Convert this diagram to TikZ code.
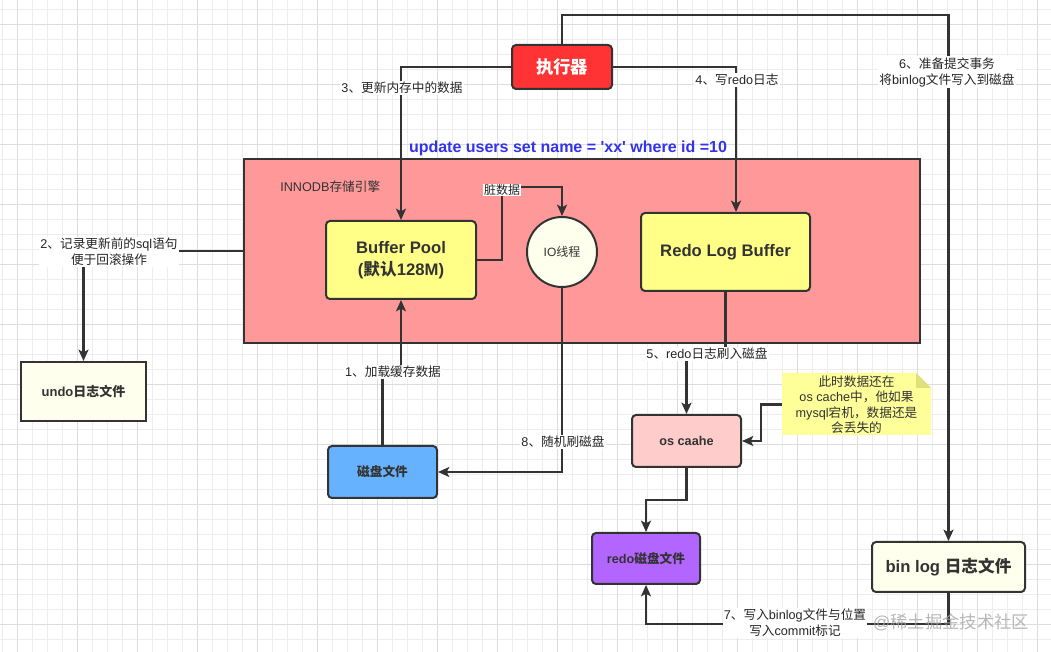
\documentclass[tikz,border=0pt]{standalone}
\usepackage{fontspec}
\setmainfont{Liberation Sans}
\newfontfamily\sqlfont{Liberation Sans}
\newfontfamily\zhfont{Noto Sans CJK SC}
\newcommand\zh[1]{{\zhfont #1}}
\usetikzlibrary{arrows.meta,calc}
\definecolor{lc}{HTML}{333333}
\definecolor{gridl}{HTML}{EDEDED}
\definecolor{gridd}{HTML}{DDDDDD}
\definecolor{execred}{HTML}{FF3333}
\definecolor{innopink}{HTML}{FF9999}
\definecolor{bufy}{HTML}{FFFF88}
\definecolor{cream}{HTML}{FFFFEE}
\definecolor{diskblue}{HTML}{66B2FF}
\definecolor{ospink}{HTML}{FFCCCC}
\definecolor{redopurple}{HTML}{B266FF}
\definecolor{noteyel}{HTML}{FFFF99}
\definecolor{notefold}{HTML}{E0E07A}
\definecolor{sqlblue}{HTML}{3333EE}
\tikzset{
  conn/.style={draw=lc, line width=1.6pt, -{Stealth[length=8.5pt,width=7.5pt,inset=2pt]}},
  box/.style={draw=lc, line width=1.5pt, rounded corners=3pt, align=center, inner sep=0pt, text=lc},
  lbl/.style={fill=white, inner sep=1pt, align=center, text=black!85, font=\fontsize{9.5}{12}\selectfont},
}
\begin{document}
\begin{tikzpicture}[x=0.75pt,y=-0.75pt]
\useasboundingbox (0,0) rectangle (1051,652);
\fill[white] (0,0) rectangle (1051,652);
% grid
\foreach \i in {0,...,69} \draw[gridl, line width=0.75pt] ({2.7+15*\i},0) -- ({2.7+15*\i},652);
\foreach \j in {0,...,43} \draw[gridl, line width=0.75pt] (0,{9.3+15*\j}) -- (1051,{9.3+15*\j});
\foreach \i in {0,...,17} \draw[gridd, line width=0.75pt] ({17.7+60*\i},0) -- ({17.7+60*\i},652);
\foreach \j in {0,...,10} \draw[gridd, line width=0.75pt] (0,{24.3+60*\j}) -- (1051,{24.3+60*\j});

% storage engine
\node[draw=lc, line width=1.5pt, fill=innopink, minimum width=507pt, minimum height=138pt, inner sep=0pt] (inno) at (582,251) {};
\node[anchor=west, inner sep=0pt, text=lc, font=\fontsize{9.5}{11}\selectfont] (innolbl) at (280,187) {INNODB\zh{存储引擎}};

% nodes
\node[box, fill=execred, minimum width=75pt, minimum height=33pt, text=white, font=\bfseries\fontsize{13}{15}\selectfont] (exec) at (562,67) {\zh{执行器}};
\node[box, fill=bufy, minimum width=112.5pt, minimum height=58.5pt, font=\bfseries\fontsize{12.5}{16.5}\selectfont] (bp) at (401,260) {Buffer Pool\\(\zh{默认}128M)};
\node[circle, draw=lc, line width=1.5pt, fill=cream, minimum size=52.5pt, inner sep=0pt, text=lc, font=\fontsize{9}{11}\selectfont] (io) at (562,252) {IO\zh{线程}};
\node[box, fill=bufy, minimum width=126.75pt, minimum height=58.5pt, font=\bfseries\fontsize{12.5}{15}\selectfont] (rlb) at (725.5,252) {Redo Log Buffer};
\node[box, rounded corners=0pt, fill=cream, minimum width=93.75pt, minimum height=44.25pt, font=\bfseries\fontsize{9.75}{12}\selectfont] (undo) at (83.5,391.5) {undo\zh{日志文件}};
\node[box, fill=diskblue, minimum width=81.75pt, minimum height=39pt, font=\bfseries\fontsize{9.5}{12}\selectfont] (disk) at (382.5,472) {\zh{磁盘文件}};
\node[box, fill=ospink, minimum width=81.75pt, minimum height=39pt, font=\bfseries\fontsize{9.5}{12}\selectfont] (os) at (686.5,441) {os caahe};
\node[box, fill=redopurple, minimum width=81pt, minimum height=38.25pt, font=\bfseries\fontsize{9.5}{12}\selectfont] (redo) at (646,558.5) {redo\zh{磁盘文件}};
\node[box, fill=cream, minimum width=114.75pt, minimum height=37.5pt, font=\bfseries\fontsize{12.5}{15}\selectfont] (binlog) at (948.5,567) {bin log \zh{日志文件}};

% note
\fill[noteyel] (782,373) -- (916,373) -- (931,388) -- (931,435) -- (782,435) -- cycle;
\fill[notefold] (916,373) -- (916,388) -- (931,388) -- cycle;
\node[minimum width=111.75pt, minimum height=46.5pt, inner sep=0pt, align=center, text=lc, font=\fontsize{9.5}{11.6}\selectfont] (note) at (856.5,404.5)
  {\zh{此时数据还在}\\os cache\zh{中，他如果}\\mysql\zh{宕机，数据还是}\\\zh{会丢失的}};

% sql text
\node[text=sqlblue, inner sep=0pt, font=\sqlfont\bfseries\fontsize{12}{14}\selectfont] (sql) at (568,148) {update users set name = 'xx' where id =10};

% connectors
\draw[conn] (exec.north) -- (exec.north |- 0,15) -| (binlog.north);
\draw[conn] (exec.west) -| (bp.north);
\draw[conn] (exec.east) -| ([xshift=7.9pt]rlb.north);
\draw[conn] (disk.north) -- ++(0,-74) -| (bp.south);
\draw[conn] (bp.east) -| (502,187) -| (io.north);
\draw[conn] (io.south) |- (disk.east);
\draw[conn] (rlb.south) -- ++(0,63) -| (os.north);
\draw[conn] (note.west) -- ++(-21,0) |- (os.east);
\draw[conn] (os.south) -- ++(0,32) -| (redo.north);
\draw[conn] (binlog.south) -- ++(0,31) -| (redo.south);
\draw[conn] (inno.west) -| (undo.north);

% labels
\node[lbl] (l6) at (947,72) {6\zh{、准备提交事务}\\\zh{将}binlog\zh{文件写入到磁盘}};
\node[lbl] (l3) at (402,88) {3\zh{、更新内存中的数据}};
\node[lbl] (l4) at (737,80) {4\zh{、写}redo\zh{日志}};
\node[lbl] (l1) at (393,372) {1\zh{、加载缓存数据}};
\node[lbl, inner sep=0.5pt, font=\fontsize{9}{11}\selectfont] (ldirty) at (502,190) {\zh{脏数据}};
\node[lbl] (l8) at (563,442) {8\zh{、随机刷磁盘}};
\node[lbl] (l5) at (707,354) {5\zh{、}redo\zh{日志刷入磁盘}};
\node[lbl] (l7) at (795,623) {7\zh{、写入}binlog\zh{文件与位置}\\\zh{写入}commit\zh{标记}};
\node[lbl] (l2) at (109,252) {2\zh{、记录更新前的}sql\zh{语句}\\\zh{便于回滚操作}};

% watermark
\node[text=gray!70, opacity=0.8, inner sep=0pt, font=\fontsize{13}{15}\selectfont] (wm) at (951,622) {@\zh{稀土掘金技术社区}};
\end{tikzpicture}
\end{document}
